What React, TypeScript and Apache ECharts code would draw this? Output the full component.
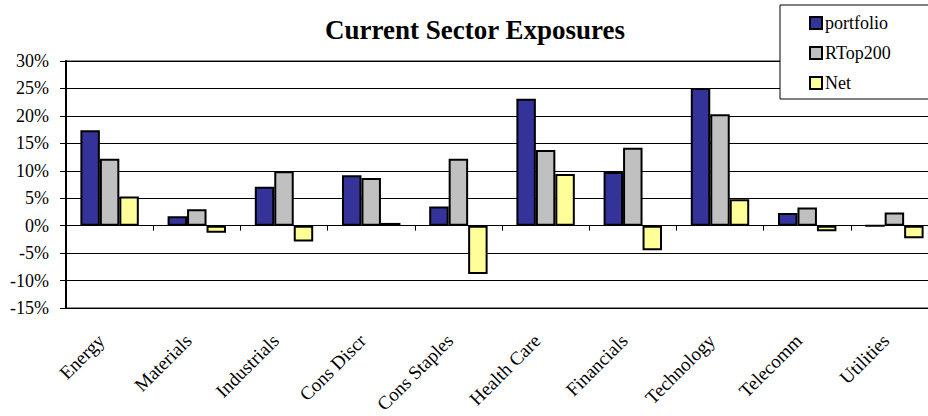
import React, { useEffect, useRef } from "react";
import * as echarts from "echarts";

const categories = [
  "Energy",
  "Materials",
  "Industrials",
  "Cons Discr",
  "Cons Staples",
  "Health Care",
  "Financials",
  "Technology",
  "Telecomm",
  "Utilities",
];
const portfolio = [17.4, 1.7, 7.1, 9.2, 3.5, 23.1, 9.8, 25.1, 2.3, 0];
const rtop200 = [12.2, 3.0, 9.9, 8.7, 12.2, 13.8, 14.2, 20.3, 3.3, 2.4];
const net = [5.3, -1.3, -2.9, 0.5, -8.8, 9.4, -4.5, 4.8, -1.0, -2.3];

const FONT = "Liberation Serif";

export default function App() {
  const ref = useRef<HTMLDivElement>(null);
  useEffect(() => {
    if (!ref.current) return;
    const chart = echarts.init(ref.current, null, { renderer: "svg" });
    const barStyle = (color: string) => ({
      color,
      borderColor: "#000",
      borderWidth: 2,
    });
    chart.setOption({
      animation: false,
      backgroundColor: "#fff",
      textStyle: { fontFamily: FONT },
      title: {
        text: "Current Sector Exposures",
        left: 470,
        textAlign: "center",
        top: 11,
        textStyle: {
          fontFamily: FONT,
          fontSize: 27,
          fontWeight: "bold",
          color: "#000",
        },
      },
      legend: {
        orient: "vertical",
        left: 780,
        top: 5,
        padding: [9, 40, 7, 29],
        itemGap: 12,
        itemWidth: 12,
        itemHeight: 12,
        icon: "rect",
        backgroundColor: "#fff",
        borderColor: "#000",
        borderWidth: 1,
        borderRadius: 0,
        textStyle: { fontFamily: FONT, fontSize: 18, color: "#000", padding: [0, 0, 0, -2] },
        data: ["portfolio", "RTop200", "Net"],
      },
      grid: {
        left: 66,
        top: 61,
        width: 872,
        height: 247,
        show: true,
        borderColor: "#909090",
        borderWidth: 2,
        backgroundColor: "transparent",
        containLabel: false,
        outerBoundsMode: "none",
      },
      xAxis: [
        {
          type: "category",
          data: categories,
          position: "bottom",
          axisLine: { show: true, onZero: true, lineStyle: { color: "#000", width: 1 } },
          axisTick: { show: true, length: 5, lineStyle: { color: "#000" } },
          axisLabel: { show: false },
          splitLine: { show: false },
        },
        {
          type: "category",
          data: categories,
          position: "bottom",
          offset: 0,
          axisLine: { show: false, onZero: false },
          axisTick: { show: false },
          axisLabel: {
            show: true,
            rotate: 45,
            margin: 21,
            padding: [0, 12, 0, 0],
            interval: 0,
            fontFamily: FONT,
            fontSize: 19,
            color: "#000",
          },
        },
      ],
      yAxis: {
        type: "value",
        min: -15,
        max: 30,
        interval: 5,
        axisLine: { show: true, lineStyle: { color: "#000", width: 2 } },
        axisTick: { show: true, length: 6, lineStyle: { color: "#000" } },
        axisLabel: {
          formatter: "{value}%",
          margin: 17,
          fontFamily: FONT,
          fontSize: 18,
          color: "#000",
        },
        splitLine: { show: true, lineStyle: { color: "#000", width: 1 } },
      },
      series: [
        {
          name: "portfolio",
          type: "bar",
          xAxisIndex: 0,
          data: portfolio,
          barGap: "0%",
          barCategoryGap: "33%",
          itemStyle: barStyle("#333399"),
        },
        {
          name: "RTop200",
          type: "bar",
          xAxisIndex: 0,
          data: rtop200,
          barGap: "0%",
          barCategoryGap: "33%",
          itemStyle: barStyle("#C0C0C0"),
        },
        {
          name: "Net",
          type: "bar",
          xAxisIndex: 0,
          data: net,
          barGap: "0%",
          barCategoryGap: "33%",
          itemStyle: barStyle("#FFFF99"),
        },
      ],
    });
    return () => chart.dispose();
  }, []);
  return (
    <div
      ref={ref}
      style={{ position: "fixed", left: 0, top: 0, width: 928, height: 416 }}
    />
  );
}
